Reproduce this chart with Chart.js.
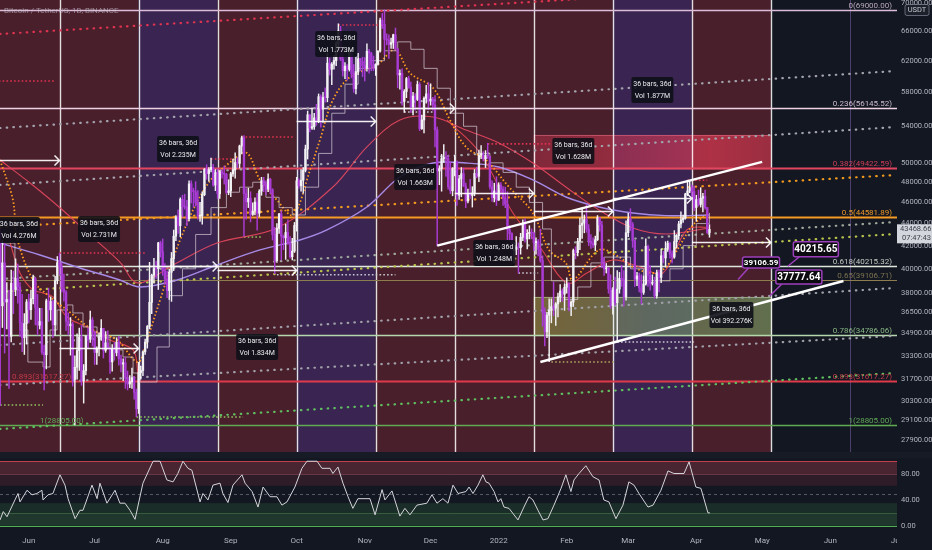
<!DOCTYPE html>
<html>
<head>
<meta charset="utf-8">
<script src="https://cdn.jsdelivr.net/npm/chart.js@4.4.1/dist/chart.umd.min.js"></script>
<style>
  html, body { margin: 0; padding: 0; background: #131722; }
  #wrap { position: relative; width: 932px; height: 550px; overflow: hidden; background: #131722; }
  #main { position: absolute; left: 0; top: 0; }
  #osc { position: absolute; left: 0; top: 452px; }
</style>
</head>
<body>
<div id="wrap">
  <canvas id="main" width="932" height="452"></canvas>
  <canvas id="osc" width="932" height="98"></canvas>
</div>
<script>
// day index 0 = 2021-05-18, daily BTCUSDT candles (open = previous close)
const firstOpen = 43540;
const closes = [
  42900, 37000, 40500, 37300, 37500, 34700, 38800, 38300, 39200, 38500, 35700, 34600, 35650, 37300,
  36700, 37560, 39190, 36850, 35520, 35800, 33560, 33380, 37390, 36690, 37340, 35550, 39020, 40520, 40140, 38350, 38090, 35820, 35480, 35600, 31680, 32510, 33680, 34660, 31590, 32280, 34700, 34490, 35910, 35040,
  33540, 33820, 34690, 35290, 33690, 34220, 33860, 32880, 33810, 33520, 34260, 33090, 32730, 32820, 31780, 31390, 31530, 31800, 30840, 29790, 32140, 32290, 33590, 34280, 35430, 37270, 39460, 40020, 40010, 42240, 41460,
  39850, 39150, 38210, 39720, 40870, 42840, 44610, 43810, 46290, 45590, 45550, 44430, 47830, 47100, 47050, 45970, 44690, 44710, 46760, 49340, 48870, 49290, 49530, 47710, 48990, 46850, 49070, 48900, 48810, 46990, 47130,
  48850, 49280, 50030, 49940, 51790, 52700, 46860, 46050, 46400, 44850, 45170, 46030, 44960, 47110, 48150, 47760, 47300, 48310, 47260, 42990, 40700, 43560, 44900, 42840, 42700, 43180, 42170, 41030, 41520, 43820,
  48140, 47640, 48200, 49220, 51470, 55320, 53790, 53950, 54950, 54660, 57470, 56000, 57370, 57350, 61670, 60880, 61530, 62010, 64280, 66000, 62190, 60690, 61290, 60860, 63080, 60330, 58460, 60590, 62250, 61880, 61320,
  61000, 63230, 62940, 61450, 61010, 61530, 63270, 67520, 66930, 64860, 64760, 64160, 64420, 65470, 63560, 60160, 60370, 56900, 58100, 59700, 58620, 56250, 57540, 57140, 58960, 53730, 54720, 57270, 57800, 56950,
  57180, 56480, 53600, 49150, 49400, 50440, 50590, 50470, 47540, 47140, 49390, 50080, 46700, 48340, 48860, 47630, 46130, 46830, 46680, 46910, 48900, 48600, 50820, 50820, 50430, 50800, 50700, 47540, 46460, 47120, 46220,
  47720, 47290, 46440, 45830, 43430, 43080, 41550, 41680, 41860, 41820, 42740, 43920, 42590, 43100, 43180, 43110, 42250, 42370, 41690, 40700, 36480, 35030, 36280, 36650, 36950, 36820, 37150, 37710, 38170, 37920, 38480,
  38740, 36950, 37300, 41570, 41380, 42380, 43840, 44040, 44370, 43500, 42390, 42200, 42060, 42530, 44540, 43870, 40520, 40000, 40080, 38370, 37020, 38240, 37250, 38330, 39210, 39100, 37700, 43160,
  44420, 43920, 42450, 39140, 39400, 38420, 38060, 38740, 41940, 39440, 38790, 38810, 37780, 39670, 39280, 41110, 40920, 41760, 42200, 41260, 41000, 42360, 42890, 43960, 44350, 44500, 46820, 47130, 47430, 47060, 45510,
  46280, 45810, 46400, 46580, 45500, 43170, 43468.66
];
const highs = [
  45800, 43550, 42450, 42200, 38850, 38250, 39900, 39800, 40850, 40400, 38850, 37900, 36400, 37500,
  37900, 38250, 39480, 39300, 37900, 36800, 36800, 34070, 37530, 38400, 37700, 37450, 39380, 41050, 41330, 40500, 39550, 38200, 36450, 36100, 35750, 33300, 34880, 35300, 35500, 32700, 34750, 35300, 36600, 36100,
  35050, 33950, 34950, 35950, 35290, 35050, 35100, 33900, 34100, 34250, 34600, 34700, 33350, 33100, 33200, 32250, 31950, 32450, 31900, 31050, 32850, 32600, 33650, 34500, 35500, 40550, 39550, 40900, 40650, 42300, 42400,
  42600, 40450, 39800, 39950, 41400, 43400, 44750, 45300, 46450, 46700, 46800, 46200, 48150, 48150, 47400, 48050, 47150, 46000, 47050, 49400, 49800, 49500, 50500, 49850, 49300, 49350, 49200, 49300, 49650, 48900, 48250,
  49000, 50400, 51050, 50550, 51900, 52900, 52950, 47350, 47400, 47050, 45950, 46450, 46900, 47250, 48500, 48500, 48150, 48850, 48400, 47350, 43650, 44000, 44950, 45200, 42950, 43950, 44350, 42800, 42650, 44100,
  48500, 48350, 49300, 49500, 51900, 55750, 55350, 56100, 55500, 56550, 57800, 57700, 58000, 58550, 62950, 62350, 61750, 62700, 64500, 67000, 66650, 63750, 61750, 61500, 63700, 63300, 61500, 62500, 62950, 62300, 62450,
  62400, 64250, 63500, 63100, 62600, 61600, 63300, 67800, 68500, 69000, 65600, 65450, 65000, 65550, 66400, 63600, 60800, 60950, 58350, 59850, 60000, 59250, 58000, 57850, 59400, 59200, 55300, 57450, 58850, 59200,
  59050, 57400, 57600, 53900, 49700, 50900, 51950, 51200, 50800, 50100, 49500, 50800, 50200, 48700, 49500, 49450, 47900, 47300, 48300, 47550, 49300, 49550, 51350, 51850, 51200, 51300, 52100, 50700, 48150, 47900, 48550,
  47950, 47950, 47550, 47500, 47050, 43800, 43150, 42300, 42800, 42250, 43100, 44350, 44450, 43450, 43800, 43500, 43200, 42700, 42550, 43500, 41100, 36850, 36500, 37550, 37550, 38900, 37250, 38000, 38700, 38350, 38750,
  39250, 38850, 37400, 41700, 41900, 42650, 44500, 45500, 44800, 45800, 43900, 43000, 42700, 42850, 44750, 44550, 44200, 40950, 40450, 40100, 39500, 38450, 39300, 39850, 39700, 40300, 39850, 44250,
  44950, 45400, 44100, 42500, 39700, 39650, 39500, 39400, 42600, 42050, 40250, 39500, 39300, 39900, 39900, 41700, 41500, 42350, 42400, 42300, 41550, 43350, 43000, 44200, 45100, 44800, 46900, 48200, 48100, 47700, 47600,
  46700, 47200, 47450, 46900, 47200, 45500, 43900
];
const lows = [
  42200, 30000, 35350, 33500, 35250, 31100, 34300, 36400, 37800, 37200, 34700, 33600, 33400, 34150,
  35700, 35950, 37150, 35550, 34800, 35250, 33400, 31000, 32400, 35800, 35900, 34600, 34760, 38750, 39500, 38100, 37370, 35130, 34800, 33350, 31250, 28800, 31700, 32300, 31300, 30150, 32000, 33850, 34250, 34000,
  32700, 32700, 33300, 34400, 33150, 33550, 33770, 32100, 32250, 33000, 33300, 32650, 32200, 31600, 31100, 31000, 31150, 31100, 30400, 29300, 29500, 31700, 31950, 33400, 33850, 35250, 36400, 38800, 39200, 38300, 41000,
  39450, 38700, 37650, 37500, 37350, 39850, 42450, 43100, 42800, 44600, 45350, 43800, 44250, 45950, 45550, 45650, 44400, 44200, 43950, 46650, 48300, 48100, 49050, 47600, 47150, 46350, 46400, 48400, 47800, 46850, 46750,
  46550, 48600, 48400, 49500, 49450, 50950, 42850, 44400, 45500, 44150, 44750, 44800, 43400, 44650, 46700, 47050, 46750, 47050, 46850, 42500, 39600, 40550, 43100, 40750, 41650, 40800, 42100, 40900, 40750, 41400,
  43300, 47400, 47100, 46900, 49050, 50400, 53350, 53650, 53650, 54100, 54400, 53900, 54450, 56800, 56850, 60150, 58950, 60900, 61350, 63500, 62000, 60000, 59700, 59500, 60650, 59800, 58000, 57800, 60200, 60700, 59950,
  59400, 60650, 60400, 60700, 60700, 60100, 61400, 63100, 66350, 62800, 64100, 62300, 63600, 63600, 63400, 58550, 58400, 56450, 55600, 57350, 58500, 55600, 55300, 55850, 57000, 53500, 53650, 53250, 56700, 55900,
  56450, 55850, 51700, 42000, 47750, 47100, 50050, 48600, 47300, 46850, 46650, 48650, 45700, 46300, 46550, 47550, 45500, 45950, 46400, 45550, 46650, 48450, 48050, 50450, 50200, 49500, 50450, 47300, 46100, 46050, 45700,
  46200, 46700, 45700, 45500, 42500, 42450, 40600, 40500, 41200, 39650, 41250, 42450, 42300, 41700, 42600, 42600, 41550, 41250, 41100, 40550, 35450, 34000, 34600, 32900, 35700, 36250, 35500, 36150, 37300, 37350, 36650,
  38000, 36600, 36250, 36950, 40850, 41100, 41650, 42650, 43150, 43200, 42000, 41750, 41850, 41550, 42450, 43300, 40100, 39450, 39650, 38000, 36800, 36350, 37050, 34300, 38000, 38550, 37000, 37450,
  42800, 43350, 41850, 38550, 38600, 38100, 37150, 37900, 38650, 38550, 38250, 38650, 37600, 37600, 38100, 38850, 40500, 40150, 41500, 40900, 40500, 40900, 41800, 42550, 43600, 44100, 44400, 46650, 46950, 46550, 45200,
  44200, 45650, 45550, 45100, 45350, 43100, 42750
];

// axis ticks (day index of the 1st of each month)
const monthTicks = [14, 44, 75, 106, 136, 167, 197, 228, 259, 287, 318, 348, 379, 409];
const monthLabels = ['Jun', 'Jul', 'Aug', 'Sep', 'Oct', 'Nov', 'Dec', '2022', 'Feb', 'Mar', 'Apr', 'May', 'Jun', 'Jul'];
const priceTicks = [70000, 66000, 62000, 58000, 54000, 50000, 48000, 46000, 44000, 42000, 40000, 38000, 36500, 34900, 33300, 31700, 30300, 29100, 27900];
const rsiTicks = [0, 40, 80];

// 36 day cycles
const cycleDays = [28, 64, 100, 136, 172, 208, 244, 280, 316, 352];
const cycleFaint = [388];
const zoneStarts = [-20, 64, 100, 136, 172, 280, 316, 352];
const zoneKinds = ['red', 'purple', 'red', 'purple', 'red', 'purple', 'red', 'none'];

// fibonacci retracement 69000 -> 28805
const fibRatios = ['0', '0.236', '0.382', '0.5', '0.618', '0.65', '0.786', '0.893', '1'];
const fibPrices = [69000.00, 56145.52, 49422.59, 44581.89, 40215.32, 39106.71, 34786.06, 31617.27, 28805.00];
const fibLeftIdx = [7, 8];
const fibLeftDay = [6.4, 19.1];

// dotted channel lines (price at day 0.9 and at day 408.5)
const channelFrom = [65580, 53800, 47720, 43680, 39150, 38100, 34070, 31320, 28550];
const channelTo = [73470, 60660, 53910, 48730, 44140, 43040, 38420, 34730, 32120];

// moving averages
const slowMaDays = [0.9, 14.6, 28.2, 41.9, 55.5, 63.7, 79.7, 99.7, 127.0, 152.5, 168.0, 183.0, 198.1, 213.1, 228.1, 243.6, 258.6, 273.7, 289.1, 304.2, 323.8];
const slowMaValues = [50300, 47920, 45490, 42950, 40570, 38820, 40320, 42230, 43590, 47520, 51700, 54720, 55060, 53580, 52140, 49980, 47520, 45270, 43590, 43040, 43590];
const longMaDays = [0.9, 19.1, 37.3, 55.5, 64.7, 81.5, 99.7, 119.3, 137.5, 149.8, 168.0, 183.0, 198.1, 213.1, 228.1, 243.6, 258.6, 273.7, 289.1, 304.2, 323.8];
const longMaValues = [42230, 41180, 40070, 39070, 38500, 39070, 40320, 41620, 42500, 43410, 45560, 48530, 49980, 49980, 49560, 48230, 46530, 45560, 44990, 44740, 44800];
const emaDays = [0.9, 6.8, 8.6, 15.9, 23.7, 31.4, 43.2, 54.2, 63.7, 67.8, 73.8, 82.9, 95.2, 107.0, 113.4, 119.3, 127.0, 134.3, 142.1, 146.6, 152.5, 160.3, 172.6, 180.8, 187.6, 198.1, 205.8, 213.1, 222.2, 232.7, 243.6, 250.9, 258.6, 261.8, 273.7, 282.8, 289.1, 298.3, 304.2, 310.1, 316.5, 323.8];
const emaValues = [50300, 46240, 42770, 39070, 37700, 36680, 35170, 34430, 32870, 34430, 37460, 42500, 47720, 50300, 51040, 48230, 46240, 44800, 49250, 52470, 57070, 59900, 61440, 63410, 60410, 58540, 54720, 51700, 50300, 47520, 44990, 41620, 40490, 39070, 41620, 41010, 40150, 39650, 40150, 41880, 43870, 44990];
const fastMaEarlyDays = [5.5, 10.0, 15.9, 20.5, 25.0, 31.4, 40.5, 51.0, 61.5, 63.7];
const fastMaEarlyValues = [42230, 39650, 38260, 38020, 37700, 36140, 35390, 34430, 33720, 32120];
const fastMaDays = [204.4, 219.5, 234.5, 246.8, 259.1, 268.2, 280.0, 292.3, 302.8, 313.7, 323.8];
const fastMaValues = [54720, 51040, 44990, 41880, 38820, 39650, 40750, 40150, 39650, 43410, 43680];
const baseDays = [1, 6.4, 7.7, 10, 13.6, 20.5, 23.7, 26.9, 31.4, 34.1, 38.7, 45.1, 51, 56.9, 61.5, 64.7, 72.4, 78, 84, 90, 97, 104, 110, 116, 122, 128, 134, 140, 146, 152, 158, 164, 170, 176, 182, 188, 194, 200, 206, 212, 218, 224, 230, 236, 242, 248, 252, 258, 264, 270, 276, 282, 288, 294, 300, 306, 312, 318, 324];
const baseValues = [42230, 42230, 38260, 35170, 32870, 32530, 35170, 36680, 37070, 36450, 35390, 34650, 33720, 33220, 32120, 31520, 33930, 37800, 40000, 43000, 45500, 47000, 47500, 48000, 46500, 45500, 44800, 47500, 51000, 55500, 59000, 61000, 62000, 63300, 64500, 63500, 61000, 58500, 55500, 54000, 51000, 50000, 49000, 47500, 46000, 43500, 39000, 37500, 38500, 40500, 41000, 41000, 40000, 39000, 39000, 40000, 42000, 44000, 45000];

// rising wedge
const wedgeUpperDays = [200, 348];
const wedgeUpperPrices = [42000, 50100];
const wedgeLowerDays = [247, 385];
const wedgeLowerPrices = [32870, 38980];

// date range tools
const rangeFrom = [-8, 28, 64, 100, 136, 172, 208, 244, 280, 316];
const rangeTo = [28, 64, 100, 136, 172, 208, 244, 280, 316, 352];
const rangePrice = [50300, 33860, 40215, 39900, 54600, 56120, 46920, 45180, 46430, 42320];
const rangeVolumes = ['4.276M', '2.731M', '2.235M', '1.773M', '1.663M', '1.877M', '1.628M', '1.248M', '392.276K', '1.834M'];
const rangeLabelDay = [9.5, 46, 82, 154, 190, 298, 262, 226, 334, 118];
const rangeLabelPrice = [43400, 43500, 51480, 64210, 48530, 58280, 51260, 41360, 36300, 33930];
const boxFrom = [244, 244];
const boxTo = [352, 352];
const boxLow = [49422.59, 34786.06];
const boxHigh = [53020, 37700];

// pivot levels (dotted)
const pivotFrom = [-10, 155, 111, 97, 28, 223, 314, 1, 63, 112, 252, 237, 127, 282, 185];
const pivotTo = [26, 175, 135, 107, 67, 252, 323, 20.5, 111.6, 120, 281, 246, 181, 317, 198];
const pivotPrice = [59400, 66840, 52800, 50400, 41360, 52030, 48200, 30030, 29280, 42770, 32870, 39650, 39500, 34290, 55640];
const pivotKind = ['r', 'r', 'r', 'r', 'r', 'r', 'r', 'g', 'g', 'g', 'o', 'w', 'w', 'w', 'w'];

// price callouts
const calloutText = ['40215.65', '39106.59', '37777.64'];
const calloutDay = [359.7, 337, 351.5];
const calloutPrice = [40215.65, 39106.59, 37777.64];

const lastPrice = 43468.66;
const lastTime = '07:47:43';

// oscillator
const rsiDays = [0.9, 2.4, 4.1, 7.7, 9.1, 10.0, 13.2, 15.5, 17.7, 20.0, 20.5, 22.8, 25.0, 28.2, 30.5, 31.9, 35.1, 37.3, 38.7, 42.8, 45.1, 46.4, 49.6, 53.3, 55.5, 57.8, 60.1, 62.4, 66.0, 70.6, 73.8, 76.9, 79.7, 81.9, 84.2, 86.5, 88.3, 92.0, 93.3, 95.6, 97.9, 101.1, 102.4, 104.7, 107.0, 111.1, 112.5, 115.7, 118.4, 120.7, 123.9, 127.0, 129.3, 131.6, 135.2, 138.4, 140.7, 145.3, 147.5, 151.2, 152.5, 154.8, 157.1, 159.4, 161.6, 163.9, 169.4, 171.7, 174.9, 176.2, 179.4, 183.0, 185.3, 187.6, 190.8, 195.3, 197.6, 199.9, 202.6, 204.9, 207.2, 209.5, 213.1, 214.5, 216.3, 218.6, 220.8, 222.2, 223.6, 225.9, 227.7, 229.0, 230.4, 232.7, 236.8, 239.5, 241.8, 243.6, 245.9, 248.2, 250.4, 253.2, 256.4, 258.6, 260.9, 262.3, 264.6, 267.7, 270.9, 273.7, 275.9, 278.2, 281.4, 284.6, 287.3, 289.6, 291.9, 296.0, 298.3, 301.9, 305.1, 307.8, 312.4, 314.7, 317.8, 320.1, 323.3, 324.2];
const rsiValues = [9, 22, 14, 40, 50, 37, 55, 48, 50, 55, 40, 48, 50, 79, 63, 42, 11, 24, 24, 63, 42, 66, 35, 55, 35, 35, 24, 10, 66, 100, 100, 71, 68, 81, 100, 89, 86, 37, 50, 40, 63, 66, 50, 36, 63, 79, 66, 53, 29, 60, 45, 45, 32, 37, 60, 89, 100, 100, 89, 89, 81, 91, 66, 45, 27, 42, 42, 17, 56, 40, 54, 15, 27, 17, 32, 35, 48, 35, 42, 35, 63, 50, 53, 60, 50, 63, 79, 68, 66, 53, 37, 42, 29, 27, 9, 29, 45, 40, 24, 9, 11, 32, 58, 79, 53, 71, 81, 93, 76, 71, 40, 37, 11, 32, 68, 63, 50, 29, 32, 55, 85, 81, 81, 99, 60, 58, 20, 20];

const X_MIN = 0.9;
const X_MAX = 409.4;

const UP = '#f2f2f4';
const DOWN = '#aa3cd6';
const zoneFill = { red: '#4a1f2c', purple: '#3a2552', none: 'rgba(0,0,0,0)' };
const fibLineColors = ['#dcbcd8', '#efd3e4', '#e2465e', '#f59a23', '#dfe6dc', '#8c7d4e', '#b4d8ac', '#e03a4a', '#5faa52'];
const fibLabelColors = ['#b9a9b9', '#cdbccb', '#cf3e58', '#e8962a', '#c5ccc3', '#7d7450', '#86b783', '#c43a48', '#62a857'];
const fibWidths = [1.5, 1.5, 2, 2, 1.5, 1, 1.5, 2, 1.3];
const channelColors = ['#e0334f', '#a3a3ab', '#a3a3ab', '#f29a1d', '#9ea79a', '#b7c34a', '#a0a0a8', '#a0a0a8', '#5fbf5f'];
const pivotColors = { r: '#e0334f', g: '#8fc45a', o: '#a8a860', w: '#c8c8d0' };

Chart.defaults.font.family = 'Roboto, "Liberation Sans", sans-serif';
Chart.defaults.animation = false;

const candles = closes.map((c, i) => {
  const o = i === 0 ? firstOpen : closes[i - 1];
  return { x: i, o, c, h: highs[i], l: lows[i] };
});
const bodyColors = candles.map(k => (k.c >= k.o ? UP : DOWN));

const pts = (days, vals) => days.map((d, i) => ({ x: d, y: vals[i] }));

function fixWidth(w) {
  return s => { s.width = w; s.paddingTop = 0; s.paddingBottom = 0; };
}

function roundRect(ctx, x, y, w, h, r) {
  ctx.beginPath();
  ctx.moveTo(x + r, y);
  ctx.arcTo(x + w, y, x + w, y + h, r);
  ctx.arcTo(x + w, y + h, x, y + h, r);
  ctx.arcTo(x, y + h, x, y, r);
  ctx.arcTo(x, y, x + w, y, r);
  ctx.closePath();
}

const overlayPlugin = {
  id: 'overlays',
  beforeDraw(chart) {
    const { ctx, chartArea: a, scales: { x, y } } = chart;
    ctx.save();
    ctx.fillStyle = '#131722';
    ctx.fillRect(0, 0, chart.width, chart.height);
    ctx.beginPath();
    ctx.rect(a.left, a.top, a.width, a.height);
    ctx.clip();

    // cycle zones
    zoneStarts.forEach((d, i) => {
      const x0 = x.getPixelForValue(d);
      const x1 = x.getPixelForValue(i + 1 < zoneStarts.length ? zoneStarts[i + 1] : 430);
      ctx.fillStyle = zoneFill[zoneKinds[i]];
      ctx.fillRect(x0, a.top, x1 - x0, a.height);
    });

    // range boxes
    boxFrom.forEach((d, i) => {
      const x0 = x.getPixelForValue(d), x1 = x.getPixelForValue(boxTo[i]);
      const y0 = y.getPixelForValue(boxHigh[i]), y1 = y.getPixelForValue(boxLow[i]);
      const g = ctx.createLinearGradient(x0, 0, x1, 0);
      if (i === 0) {
        g.addColorStop(0, 'rgba(215,55,80,0.38)');
        g.addColorStop(0.75, 'rgba(235,60,85,0.62)');
        g.addColorStop(1, 'rgba(235,60,85,0.5)');
      } else {
        g.addColorStop(0, 'rgba(160,170,70,0.5)');
        g.addColorStop(0.5, 'rgba(130,170,110,0.5)');
        g.addColorStop(1, 'rgba(120,190,110,0.5)');
      }
      ctx.fillStyle = g;
      ctx.fillRect(x0, y0, x1 - x0, y1 - y0);
      ctx.strokeStyle = i === 0 ? 'rgba(240,120,140,0.5)' : 'rgba(200,220,170,0.55)';
      ctx.lineWidth = 1;
      ctx.strokeRect(x0 + 0.5, y0 + 0.5, x1 - x0, y1 - y0);
    });

    // cycle lines
    ctx.lineWidth = 1.4;
    ctx.strokeStyle = 'rgba(255,255,255,0.85)';
    cycleDays.forEach(d => {
      const px = Math.round(x.getPixelForValue(d)) + 0.5;
      ctx.beginPath(); ctx.moveTo(px, a.top); ctx.lineTo(px, a.bottom); ctx.stroke();
    });
    ctx.lineWidth = 1;
    ctx.strokeStyle = 'rgba(150,110,200,0.45)';
    cycleFaint.forEach(d => {
      const px = Math.round(x.getPixelForValue(d)) + 0.5;
      ctx.beginPath(); ctx.moveTo(px, a.top); ctx.lineTo(px, a.bottom); ctx.stroke();
    });

    // fib levels
    fibPrices.forEach((p, i) => {
      const py = Math.round(y.getPixelForValue(p)) + 0.5;
      ctx.strokeStyle = fibLineColors[i];
      ctx.lineWidth = fibWidths[i];
      ctx.beginPath(); ctx.moveTo(a.left, py); ctx.lineTo(a.right, py); ctx.stroke();
    });

    // pivot dotted lines
    ctx.setLineDash([1.6, 2.2]);
    ctx.lineWidth = 1.6;
    pivotFrom.forEach((d, i) => {
      const py = y.getPixelForValue(pivotPrice[i]);
      ctx.strokeStyle = pivotColors[pivotKind[i]];
      ctx.beginPath();
      ctx.moveTo(x.getPixelForValue(d), py);
      ctx.lineTo(x.getPixelForValue(pivotTo[i]), py);
      ctx.stroke();
    });
    ctx.setLineDash([]);
    ctx.restore();
  },
  afterDatasetsDraw(chart) {
    const { ctx, chartArea: a, scales: { x, y } } = chart;
    ctx.save();
    ctx.beginPath();
    ctx.rect(a.left, a.top, a.width, a.height);
    ctx.clip();

    // range arrows
    ctx.strokeStyle = 'rgba(255,255,255,0.92)';
    ctx.lineWidth = 1.5;
    rangeFrom.forEach((d, i) => {
      const x0 = x.getPixelForValue(d), x1 = x.getPixelForValue(rangeTo[i]);
      const py = Math.round(y.getPixelForValue(rangePrice[i])) + 0.5;
      ctx.beginPath();
      ctx.moveTo(x0, py); ctx.lineTo(x1, py);
      ctx.moveTo(x1 - 5, py - 5); ctx.lineTo(x1, py); ctx.lineTo(x1 - 5, py + 5);
      ctx.stroke();
    });

    // range info labels
    ctx.textAlign = 'center';
    ctx.textBaseline = 'middle';
    rangeVolumes.forEach((v, i) => {
      const cx = x.getPixelForValue(rangeLabelDay[i]);
      const cy = y.getPixelForValue(rangeLabelPrice[i]);
      const w = v.length > 7 ? 44 : 42, h = 26;
      ctx.fillStyle = 'rgba(14,15,24,0.9)';
      roundRect(ctx, cx - w / 2, cy - h / 2, w, h, 2);
      ctx.fill();
      ctx.fillStyle = '#ececf0';
      ctx.font = '7px Roboto, sans-serif';
      ctx.fillText('36 bars, 36d', cx, cy - 6);
      ctx.fillText('Vol ' + v, cx, cy + 6);
    });

    // fib labels
    ctx.font = '8px Roboto, sans-serif';
    ctx.textBaseline = 'alphabetic';
    ctx.textAlign = 'right';
    fibPrices.forEach((p, i) => {
      const py = y.getPixelForValue(p);
      ctx.fillStyle = fibLabelColors[i];
      ctx.fillText(fibRatios[i] + '(' + p.toFixed(2) + ')', a.right - 5, py - 2);
    });
    ctx.textAlign = 'left';
    fibLeftIdx.forEach((fi, i) => {
      const py = y.getPixelForValue(fibPrices[fi]);
      ctx.fillStyle = fibLabelColors[fi];
      ctx.fillText(fibRatios[fi] + '(' + fibPrices[fi].toFixed(2) + ')', x.getPixelForValue(fibLeftDay[i]), py - 2);
    });

    // title
    ctx.fillStyle = 'rgba(205,205,215,0.6)';
    ctx.font = '8px Roboto, sans-serif';
    ctx.fillText('Bitcoin / TetherUS, 1D, BINANCE', 4, 13);

    // callouts
    const offs = [[28, -17, 45, 15, 10], [23, -17, 37, 11, 8], [29, -19, 46, 14, 10]];
    calloutText.forEach((t, i) => {
      const ax = x.getPixelForValue(calloutDay[i]);
      const ay = y.getPixelForValue(calloutPrice[i]);
      const [dx, dy, w, h, fs] = offs[i];
      const cx = ax + dx, cy = ay + dy;
      ctx.strokeStyle = '#9d3fbb';
      ctx.lineWidth = 1.5;
      ctx.beginPath(); ctx.moveTo(ax, ay); ctx.lineTo(cx - w / 2 + 6, cy + h / 2); ctx.stroke();
      ctx.fillStyle = '#0b0b10';
      roundRect(ctx, cx - w / 2, cy - h / 2, w, h, 2);
      ctx.fill(); ctx.stroke();
      ctx.fillStyle = '#ffffff';
      ctx.font = 'bold ' + fs + 'px Roboto, sans-serif';
      ctx.textAlign = 'center';
      ctx.textBaseline = 'middle';
      ctx.fillText(t, cx, cy + 0.5);
    });
    ctx.restore();

    // last price tag on the axis
    ctx.save();
    const ly = y.getPixelForValue(lastPrice);
    ctx.fillStyle = '#d4d6dd';
    ctx.fillRect(a.right, ly - 5, chart.width - a.right, 19);
    ctx.fillStyle = '#3b3e48';
    ctx.font = '7.5px Roboto, sans-serif';
    ctx.textAlign = 'left';
    ctx.textBaseline = 'middle';
    ctx.fillText(lastPrice.toFixed(2), a.right + 3, ly);
    ctx.fillText(lastTime, a.right + 5, ly + 9);
    // currency badge
    ctx.strokeStyle = 'rgba(150,155,170,0.6)';
    ctx.lineWidth = 1;
    roundRect(ctx, a.right + 8, 4.5, 24, 11, 2);
    ctx.fillStyle = '#1c202b';
    ctx.fill(); ctx.stroke();
    ctx.fillStyle = '#c3c6ce';
    ctx.textAlign = 'center';
    ctx.fillText('USDT', a.right + 20, 10.5);
    ctx.restore();
  }
};

new Chart(document.getElementById('main'), {
  type: 'bar',
  data: {
    datasets: [
      { type: 'line', label: 'wedge upper', data: pts(wedgeUpperDays, wedgeUpperPrices), borderColor: '#ffffff', borderWidth: 2.5, pointRadius: 0, order: 0 },
      { type: 'line', label: 'wedge lower', data: pts(wedgeLowerDays, wedgeLowerPrices), borderColor: '#ffffff', borderWidth: 2.5, pointRadius: 0, order: 0 },
      {
        label: 'body', data: candles.map(k => ({ x: k.x, y: [k.o, k.c] })),
        backgroundColor: bodyColors, borderWidth: 0, barThickness: 1.7, minBarLength: 1, grouped: false, order: 1
      },
      {
        label: 'wick', data: candles.map(k => ({ x: k.x, y: [k.l, k.h] })),
        backgroundColor: bodyColors, borderWidth: 0, barThickness: 0.8, grouped: false, order: 2
      },
      { type: 'line', label: 'base', data: pts(baseDays, baseValues), borderColor: 'rgba(215,205,215,0.7)', borderWidth: 1, stepped: 'before', pointRadius: 0, order: 3 },
      { type: 'line', label: 'ema', data: pts(emaDays, emaValues), borderColor: '#ff9d1c', borderWidth: 1.8, borderDash: [1.5, 2.2], tension: 0.35, pointRadius: 0, order: 3 },
      { type: 'line', label: 'fast ma early', data: pts(fastMaEarlyDays, fastMaEarlyValues), borderColor: 'rgba(232,70,80,0.9)', borderWidth: 1.1, tension: 0.35, pointRadius: 0, order: 3 },
      { type: 'line', label: 'fast ma', data: pts(fastMaDays, fastMaValues), borderColor: 'rgba(232,70,80,0.9)', borderWidth: 1.1, tension: 0.35, pointRadius: 0, order: 3 },
      { type: 'line', label: 'slow ma', data: pts(slowMaDays, slowMaValues), borderColor: 'rgba(232,72,95,0.9)', borderWidth: 1.1, tension: 0.35, pointRadius: 0, order: 4 },
      { type: 'line', label: 'long ma', data: pts(longMaDays, longMaValues), borderColor: '#a58be6', borderWidth: 1.4, tension: 0.35, pointRadius: 0, order: 4 },
      ...channelFrom.map((p, i) => ({
        type: 'line', label: 'channel ' + i, data: [{ x: X_MIN, y: p }, { x: 408.5, y: channelTo[i] }],
        borderColor: channelColors[i], borderWidth: 2.2, borderDash: [0.5, 6.2], borderCapStyle: 'round',
        pointRadius: 0, order: 5
      }))
    ]
  },
  options: {
    responsive: false,
    layout: { padding: 0 },
    plugins: { legend: { display: false }, tooltip: { enabled: false } },
    scales: {
      x: { type: 'linear', min: X_MIN, max: X_MAX, offset: false, display: false },
      y: {
        type: 'logarithmic', position: 'right', min: 27200, max: 70443,
        afterBuildTicks: s => { s.ticks = priceTicks.map(v => ({ value: v })); },
        afterFit: fixWidth(35),
        grid: { display: false, drawTicks: false },
        border: { display: false },
        ticks: {
          autoSkip: false, padding: 4, color: '#b2b5be', font: { size: 7.5 },
          callback: v => Number(v).toFixed(2)
        }
      }
    }
  },
  plugins: [overlayPlugin]
});

const oscPlugin = {
  id: 'oscBands',
  beforeDraw(chart) {
    const { ctx, chartArea: a, scales: { y } } = chart;
    ctx.save();
    ctx.fillStyle = '#131722';
    ctx.fillRect(0, 0, chart.width, chart.height);
    ctx.fillStyle = '#171b26';
    ctx.fillRect(0, 0, chart.width, a.top);
    const band = (v0, v1, c) => {
      const y0 = y.getPixelForValue(v0), y1 = y.getPixelForValue(v1);
      ctx.fillStyle = c;
      ctx.fillRect(a.left, y0, a.width, y1 - y0);
    };
    band(100, 80, 'rgba(200,70,88,0.30)');
    band(80, 62, 'rgba(200,70,88,0.15)');
    band(35, 20, 'rgba(76,175,80,0.15)');
    band(20, 0, 'rgba(76,175,80,0.22)');
    const hline = (v, c, w, dash) => {
      const py = Math.round(y.getPixelForValue(v)) + 0.5;
      ctx.strokeStyle = c; ctx.lineWidth = w; ctx.setLineDash(dash);
      ctx.beginPath(); ctx.moveTo(a.left, py); ctx.lineTo(a.right, py); ctx.stroke();
    };
    hline(100, '#c4404f', 1.2, []);
    hline(80, 'rgba(200,110,120,0.35)', 1, []);
    hline(50, 'rgba(170,170,180,0.45)', 1, [3, 3]);
    hline(20, 'rgba(110,180,110,0.3)', 1, []);
    hline(0, '#4caf50', 1.2, []);
    ctx.restore();
  },
  afterDraw(chart) {
    const { ctx, chartArea: a } = chart;
    ctx.save();
    ctx.fillStyle = '#131722';
    ctx.fillRect(a.right, a.bottom + 1, chart.width - a.right, chart.height - a.bottom);
    ctx.restore();
  }
};

new Chart(document.getElementById('osc'), {
  type: 'line',
  data: {
    datasets: [{
      label: 'RSI', data: pts(rsiDays, rsiValues),
      borderColor: '#d4d4da', borderWidth: 1, pointRadius: 0, tension: 0
    }]
  },
  options: {
    responsive: false,
    layout: { padding: { top: 6 } },
    plugins: { legend: { display: false }, tooltip: { enabled: false } },
    scales: {
      x: {
        type: 'linear', min: X_MIN, max: X_MAX, offset: false,
        afterBuildTicks: s => { s.ticks = monthTicks.map(v => ({ value: v })); },
        afterFit: s => { s.height = 21; s.paddingLeft = 0; s.paddingRight = 0; },
        grid: { display: false, drawTicks: false },
        border: { display: false },
        ticks: {
          autoSkip: false, maxRotation: 0, padding: 7, color: '#b2b5be', font: { size: 8 },
          callback: (v, i) => monthLabels[i]
        }
      },
      y: {
        position: 'right', min: -5, max: 105,
        afterBuildTicks: s => { s.ticks = rsiTicks.map(v => ({ value: v })); },
        afterFit: fixWidth(35),
        grid: { display: false, drawTicks: false },
        border: { display: false },
        ticks: {
          autoSkip: false, padding: 4, color: '#b2b5be', font: { size: 7.5 },
          callback: v => Number(v).toFixed(2)
        }
      }
    }
  },
  plugins: [oscPlugin]
});
</script>
</body>
</html>
